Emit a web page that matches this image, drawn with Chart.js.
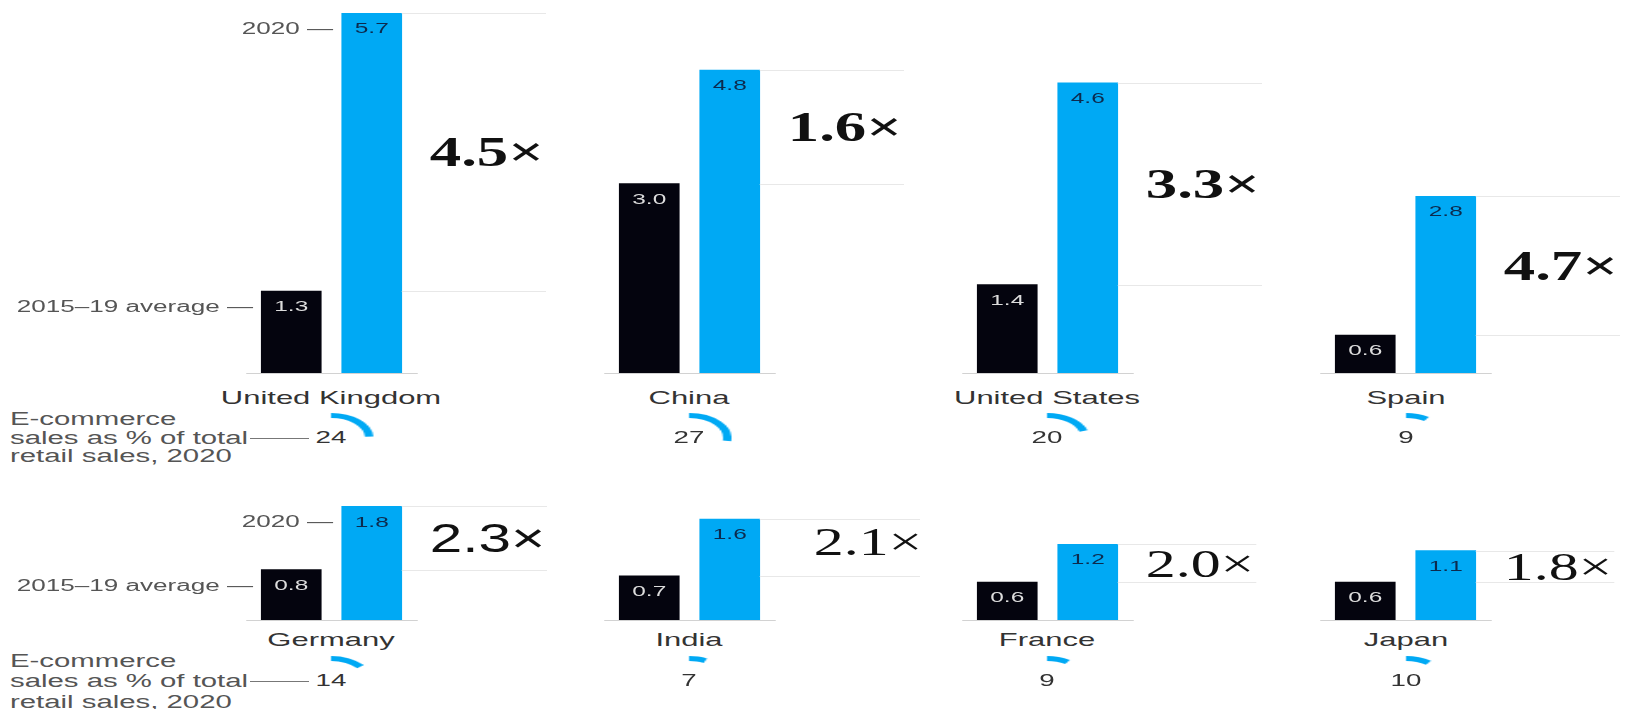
<!DOCTYPE html>
<html>
<head>
<meta charset="utf-8">
<script src="https://cdn.jsdelivr.net/npm/chart.js@4.4.1/dist/chart.umd.min.js"></script>
<style>
  body { margin: 0; background: #fff; }
  #stage { position: relative; width: 1626px; height: 709px; overflow: hidden; background: #fff; }
  #stage canvas { position: absolute; }
  .t { position: absolute; white-space: nowrap; line-height: 1; }
  .rule { position: absolute; height: 1px; background: #777; }
</style>
</head>
<body>
<div id="stage"></div>
<script>
// data
const countries = ['United Kingdom', 'China', 'United States', 'Spain', 'Germany', 'India', 'France', 'Japan'];
const seriesLabels = ['2015–19 average', '2020'];
const avg1519 = [1.3, 3.0, 1.4, 0.6, 0.8, 0.7, 0.6, 0.6];
const sales2020 = [5.7, 4.8, 4.6, 2.8, 1.8, 1.6, 1.2, 1.1];
const growthX = [4.5, 1.6, 3.3, 4.7, 2.3, 2.1, 2.0, 1.8];
const ecomShare = [24, 27, 20, 9, 14, 7, 9, 10];
const captionLines = ['E-commerce', 'sales as % of total', 'retail sales, 2020'];

// layout
const W = 1626;
const BLACK = '#04040e', BLUE = '#00a9f4';
const PX_PER_UNIT = 63.1;
const PAD_L = 15, PAD_R = 150, AREA_W = 161;
const COL_LEFT = [250.75, 608.85, 966.95, 1325.05];
const ROWS = [
  { top: 0, base: 373, nameY: 398, numY: 438, capY: [419, 438, 456] },
  { top: 470, base: 620, nameY: 640, numY: 681, capY: [661, 681, 702] }
];
const SX = 1.63, SX_BIG = 1.46;
const SANS = '"Liberation Sans", Arial, sans-serif';
const multFont = i => i < 4 ? 'bold 43px "Liberation Serif"' : (i === 4 ? '40px "Liberation Sans"' : '41px "Liberation Serif"');
const multShift = [0, 0, 0, 0, 0, 26, 0, 0];
const multDy = [0, 0, 0, 0, 0, -6, 0, 0];

const stage = document.getElementById('stage');

function addText(str, x, y, o) {
  const el = document.createElement('div');
  el.className = 't';
  el.textContent = str;
  el.style.font = o.font;
  el.style.color = o.color || '#333';
  el.style.top = y + 'px';
  const sx = o.sx || SX;
  if (o.align === 'right') {
    el.style.right = (W - x) + 'px';
    el.style.transformOrigin = '100% 50%';
    el.style.transform = `translateY(-50%) scaleX(${sx})`;
  } else if (o.align === 'center') {
    el.style.left = x + 'px';
    el.style.transformOrigin = '50% 50%';
    el.style.transform = `translate(-50%,-50%) scaleX(${sx})`;
  } else {
    el.style.left = x + 'px';
    el.style.transformOrigin = '0 50%';
    el.style.transform = `translateY(-50%) scaleX(${sx})`;
  }
  stage.appendChild(el);
}

function drawText(ctx, text, x, y, o) {
  ctx.save();
  ctx.font = o.font;
  ctx.fillStyle = o.color;
  ctx.textBaseline = 'middle';
  ctx.textAlign = o.align;
  ctx.translate(x, y);
  ctx.scale(o.sx, 1);
  ctx.fillText(text, 0, 0);
  const w = ctx.measureText(text).width * o.sx;
  ctx.restore();
  return w;
}

const panelPlugin = {
  id: 'panel',
  afterDatasetsDraw(chart, args, opts) {
    const { ctx, chartArea } = chart;
    const bars = chart.getDatasetMeta(0).data;
    const vals = chart.data.datasets[0].data;
    const [b0, b1] = bars;
    const half = b0.width / 2;
    const right = b1.x + half;
    ctx.save();
    // multiplier, its right edge is where the guide lines stop
    const mx = right + 28 + opts.shift;
    const mw = drawText(ctx, opts.mult.toFixed(1) + '×', mx, (b0.y + b1.y) / 2 + 3 + opts.dy,
      { font: opts.font, color: '#111', align: 'left', sx: SX_BIG });
    ctx.lineWidth = 1;
    ctx.strokeStyle = '#d2d2d2';
    ctx.beginPath();
    ctx.moveTo(b0.x - half - 15, chartArea.bottom + 0.5);
    ctx.lineTo(right + 16, chartArea.bottom + 0.5);
    ctx.stroke();
    ctx.strokeStyle = '#e8e8e8';
    bars.forEach(b => {
      const y = Math.round(b.y) + 0.5;
      ctx.beginPath();
      ctx.moveTo(right, y);
      ctx.lineTo(mx + mw + 2, y);
      ctx.stroke();
    });
    bars.forEach((b, j) => {
      drawText(ctx, vals[j].toFixed(1), b.x, b.y + 16,
        { font: '15px ' + SANS, color: j ? '#0c2a4d' : '#dcdcdc', align: 'center', sx: SX });
    });
    ctx.restore();
  }
};

countries.forEach((name, i) => {
  const row = ROWS[i < 4 ? 0 : 1];
  const c = i % 4;
  const left = COL_LEFT[c] - PAD_L;
  const areaH = row.base - row.top;

  const cv = document.createElement('canvas');
  cv.width = PAD_L + AREA_W + PAD_R;
  cv.height = areaH + 2;
  cv.style.left = left + 'px';
  cv.style.top = row.top + 'px';
  stage.appendChild(cv);

  const chart = new Chart(cv, {
    type: 'bar',
    data: {
      labels: seriesLabels,
      datasets: [{
        data: [avg1519[i], sales2020[i]],
        backgroundColor: [BLACK, BLUE],
        borderWidth: 0,
        barThickness: 60
      }]
    },
    options: {
      responsive: false,
      animation: false,
      devicePixelRatio: 1,
      events: [],
      layout: { padding: { left: PAD_L, right: PAD_R, top: 0, bottom: 2 } },
      scales: {
        x: { display: false },
        y: { display: false, min: 0, max: areaH / PX_PER_UNIT }
      },
      plugins: {
        legend: { display: false },
        tooltip: { enabled: false },
        panel: { mult: growthX[i], shift: multShift[i], dy: multDy[i], font: multFont(i) }
      }
    },
    plugins: [panelPlugin]
  });

  const [b0, b1] = chart.getDatasetMeta(0).data;
  const half = b0.width / 2;
  const cx = left + (b0.x + b1.x) / 2;

  addText(name, cx, row.nameY, { font: '19px ' + SANS, color: '#333', align: 'center' });
  addText(String(ecomShare[i]), cx, row.numY, { font: '17px ' + SANS, color: '#333', align: 'center' });

  // share gauge
  const g = document.createElement('canvas');
  g.width = 50; g.height = 50;
  g.style.left = (cx - 25) + 'px';
  g.style.top = (row.numY - 25) + 'px';
  g.style.transform = 'scaleX(1.7)';
  stage.appendChild(g);
  new Chart(g, {
    type: 'doughnut',
    data: {
      datasets: [{
        data: [ecomShare[i], 100 - ecomShare[i]],
        backgroundColor: [BLUE, 'rgba(0,0,0,0)'],
        borderWidth: 0
      }]
    },
    options: {
      responsive: false,
      animation: false,
      devicePixelRatio: 1,
      events: [],
      cutout: '80%',
      plugins: { legend: { display: false }, tooltip: { enabled: false } }
    }
  });

  if (c === 0) {
    addText(seriesLabels[1] + ' —', left + b1.x - half - 8, row.top + b1.y + 16, { font: '16px ' + SANS, color: '#555', align: 'right' });
    addText(seriesLabels[0] + ' —', left + b0.x - half - 8, row.top + b0.y + 16, { font: '16px ' + SANS, color: '#555', align: 'right' });
    captionLines.forEach((ln, k) => addText(ln, 10, row.capY[k], { font: '18px ' + SANS, color: '#555', align: 'left' }));
    const rule = document.createElement('div');
    rule.className = 'rule';
    rule.style.left = '250px';
    rule.style.top = row.capY[1] + 'px';
    rule.style.width = (cx - 22 - 250) + 'px';
    stage.appendChild(rule);
  }
});
</script>
</body>
</html>
